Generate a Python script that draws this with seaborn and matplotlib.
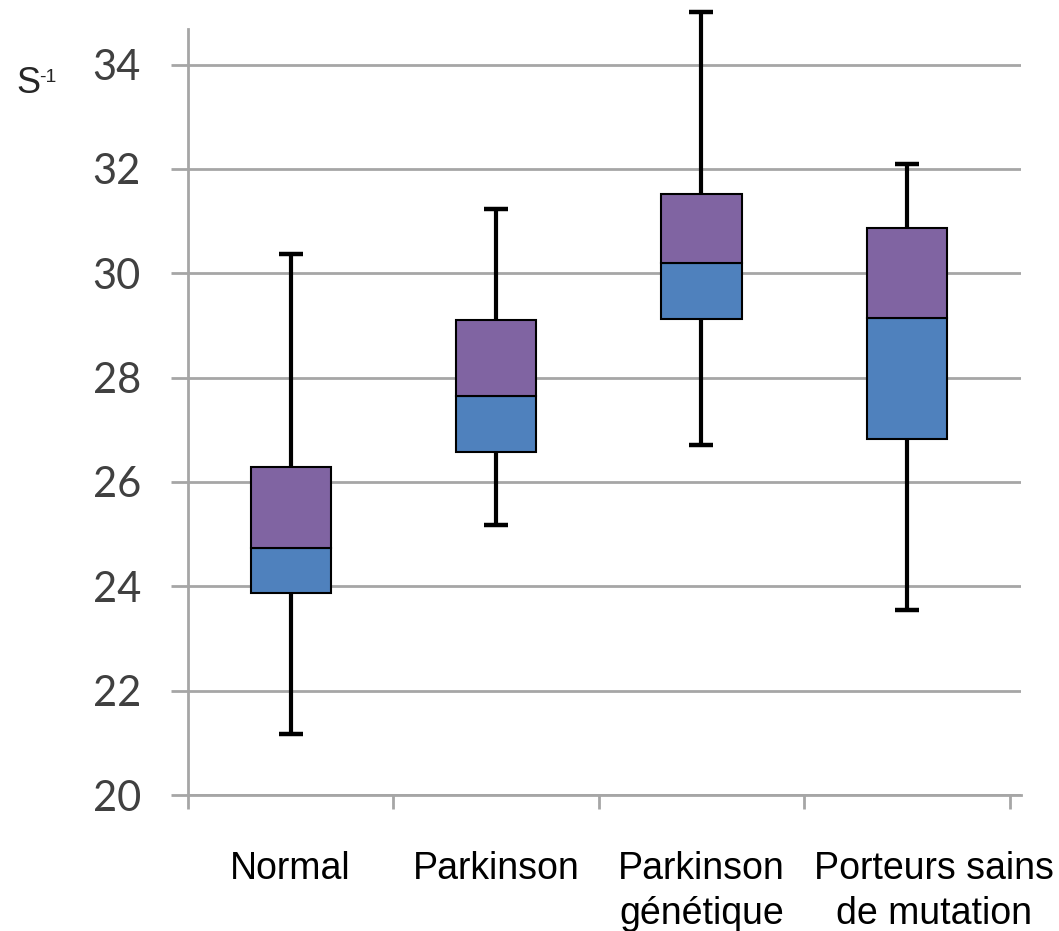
# Boxplot-style chart (Excel stacked-bar look), rebuilt with seaborn

import numpy as np
import pandas as pd
import matplotlib.pyplot as plt
import seaborn as sns

# ==============================
# Data
# ==============================
groups = ["Normal", "Parkinson", "Parkinson\ngénétique", "Porteurs sains\nde mutation"]
whisker_low = [21.17, 25.17, 26.70, 23.55]
q1 = [23.88, 26.57, 29.12, 26.83]
median = [24.73, 27.64, 30.20, 29.14]
q3 = [26.28, 29.10, 31.52, 30.87]
whisker_high = [30.36, 31.24, 35.00, 32.09]
y_ticks = [20, 22, 24, 26, 28, 30, 32, 34]

df = pd.DataFrame({
    "group": groups,
    "low": whisker_low,
    "q1": q1,
    "median": median,
    "q3": q3,
    "high": whisker_high,
})
df["lower_part"] = df["median"] - df["q1"]
df["upper_part"] = df["q3"] - df["median"]

# ==============================
# Style
# ==============================
sns.set_style("white")
plt.rcParams["font.family"] = ["Liberation Sans", "DejaVu Sans"]

blue = "#4F81BD"
purple = "#8064A2"
grid_grey = "#A6A6A6"

fig = plt.figure(figsize=(10.59, 9.31), dpi=100)
ax = fig.add_axes([0.1775, 0.146, 0.964 - 0.1775, 0.9688 - 0.146])

# whiskers (behind the boxes)
pos = np.arange(len(groups))
ax.errorbar(pos, df["median"],
            yerr=[df["median"] - df["low"], df["high"] - df["median"]],
            fmt="none", ecolor="black", elinewidth=3, capsize=8.3,
            capthick=3.2, zorder=2, clip_on=False)

# boxes: Q1 -> median (blue), median -> Q3 (purple)
sns.barplot(data=df, x="group", y="lower_part", bottom=df["q1"].values,
            color=blue, saturation=1, width=0.39, edgecolor="black",
            linewidth=1.5, errorbar=None, ax=ax, zorder=3)
sns.barplot(data=df, x="group", y="upper_part", bottom=df["median"].values,
            color=purple, saturation=1, width=0.39, edgecolor="black",
            linewidth=1.5, errorbar=None, ax=ax, zorder=3)

# ==============================
# Axes
# ==============================
ax.set_ylim(20, 34.68)
ax.set_xlim(-0.5, 3.555)
ax.set_yticks(y_ticks)
ax.set_yticklabels([str(t) for t in y_ticks], fontfamily="Lato",
                   fontsize=30, color="#404040")
ax.yaxis.grid(True, color=grid_grey, linewidth=2)
ax.set_axisbelow(True)
ax.tick_params(axis="y", length=12, width=2, color=grid_grey, pad=22,
               left=True)

# category ticks sit on the boundaries between groups
ax.set_xticks(np.arange(len(groups) + 1) - 0.5)
ax.set_xticklabels([])
ax.tick_params(axis="x", length=10, width=2, color=grid_grey, bottom=True)
for i, name in enumerate(groups):
    shift = 0.13 if i == len(groups) - 1 else 0.0
    ax.text(i + shift, -0.0735, name, transform=ax.get_xaxis_transform(),
            ha="center", va="top", fontsize=27, color="black",
            linespacing=1.3)

ax.set_xlabel("")
ax.set_ylabel("")
for side in ["top", "right"]:
    ax.spines[side].set_visible(False)
for side in ["left", "bottom"]:
    ax.spines[side].set_color(grid_grey)
    ax.spines[side].set_linewidth(2)

# unit label S^-1
fig.text(16 / 1059, 1 - 93 / 931, "S", fontsize=26, ha="left", va="baseline")
fig.text(39 / 1059, 1 - 82 / 931, "-1", fontsize=14, ha="left", va="baseline")

fig.savefig("out.png", dpi=100)
